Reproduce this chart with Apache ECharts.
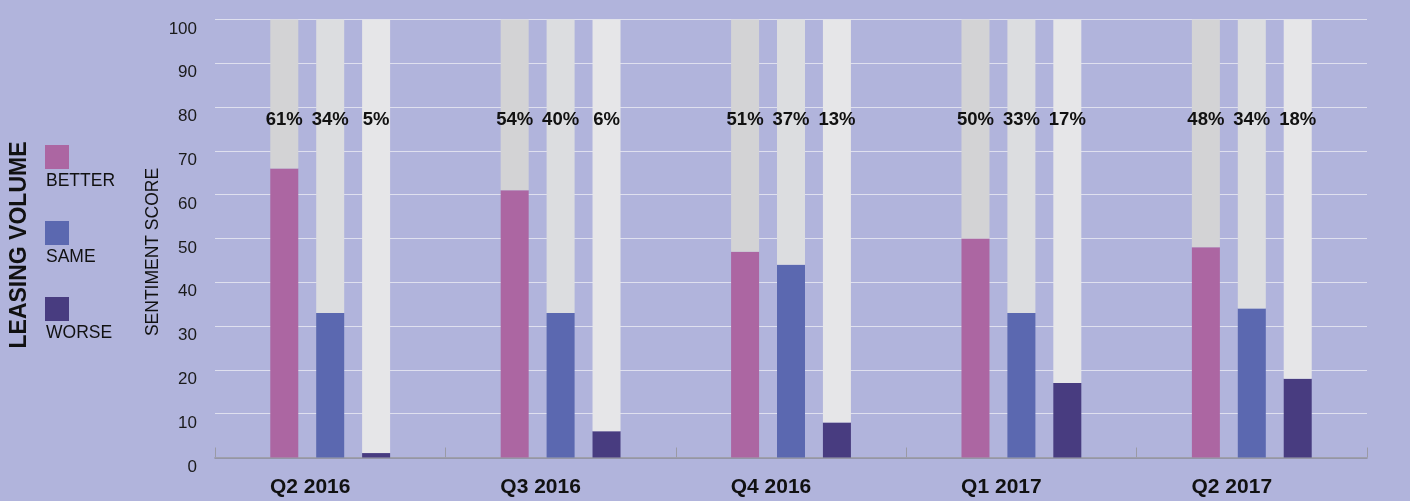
<!DOCTYPE html>
<html>
<head>
<meta charset="utf-8">
<script src="https://cdn.jsdelivr.net/npm/echarts@6/dist/echarts.min.js"></script>
<style>
    html, body { margin: 0; padding: 0; background: #b1b4dc; }
    #chart { width: 1410px; height: 501px; }
</style>
</head>
<body>
<div id="chart"></div>
<script>
const quarters = ['Q2 2016', 'Q3 2016', 'Q4 2016', 'Q1 2017', 'Q2 2017']
const seriesNames = ['BETTER', 'SAME', 'WORSE']
const betterScore = [66, 61, 47, 50, 48]
const sameScore = [33, 33, 44, 33, 34]
const worseScore = [1, 6, 8, 17, 18]
const betterPct = ['61%', '54%', '51%', '50%', '48%']
const samePct = ['34%', '40%', '37%', '33%', '34%']
const worsePct = ['5%', '6%', '13%', '17%', '18%']
const yTicks = [0, 10, 20, 30, 40, 50, 60, 70, 80, 90, 100]

const barColors = ['#ac66a2', '#5b68b0', '#483c80']
const restColors = ['#d3d3d5', '#dcdde0', '#e6e6e8']
const font = '"Liberation Sans", Arial, Helvetica, sans-serif'

const chart = echarts.init(document.getElementById('chart'))

const groups = [
    { name: seriesNames[0], values: betterScore, pct: betterPct },
    { name: seriesNames[1], values: sameScore, pct: samePct },
    { name: seriesNames[2], values: worseScore, pct: worsePct }
]

const series = []
groups.forEach((g, i) => {
    series.push({
        name: g.name,
        type: 'bar',
        stack: 's' + i,
        barWidth: 28,
        barGap: '64%',
        data: g.values,
        itemStyle: { color: barColors[i] },
        emphasis: { disabled: true }
    })
    // remaining part up to 100, carries the percentage label
    series.push({
        name: g.name + ' rest',
        type: 'bar',
        stack: 's' + i,
        barWidth: 28,
        barGap: '64%',
        data: g.values.map(v => 100 - v),
        itemStyle: { color: restColors[i] },
        emphasis: { disabled: true },
        label: {
            show: true,
            position: ['50%', 100],
            align: 'center',
            verticalAlign: 'middle',
            formatter: p => g.pct[p.dataIndex],
            fontFamily: font,
            fontWeight: 'bold',
            fontSize: 18.5,
            color: '#111'
        }
    })
})

const legendGraphics = []
groups.forEach((g, i) => {
    const top = 145 + i * 76
    legendGraphics.push({
        type: 'rect',
        left: 45,
        top: top,
        shape: { width: 24, height: 24 },
        style: { fill: barColors[i] }
    })
    legendGraphics.push({
        type: 'text',
        left: 46,
        top: top + 27,
        style: { text: g.name, font: '17.5px ' + font, fill: '#111' }
    })
})

chart.setOption({
    backgroundColor: '#b1b4dc',
    animation: false,
    grid: { left: 215, right: 43, top: 19.5, bottom: 43.5 },
    xAxis: {
        type: 'category',
        data: quarters,
        axisLine: { lineStyle: { color: '#8a8a95', width: 1.5 } },
        axisTick: { show: true, inside: true, length: 10, lineStyle: { color: '#9a9aa6' } },
        axisLabel: {
            fontFamily: font,
            fontWeight: 'bold',
            fontSize: 21,
            color: '#111',
            margin: 19,
            padding: [0, 40, 0, 0]
        }
    },
    yAxis: {
        type: 'value',
        min: yTicks[0],
        max: yTicks[yTicks.length - 1],
        interval: 10,
        axisLine: { show: false },
        axisTick: { show: false },
        splitLine: { lineStyle: { color: '#dfe0ef', width: 1 } },
        axisLabel: {
            fontFamily: font,
            fontSize: 17,
            color: '#1a1a1a',
            margin: 18,
            verticalAlign: 'top',
            padding: [1, 0, 0, 0]
        }
    },
    graphic: [
        {
            type: 'text',
            x: 20,
            y: 245,
            rotation: Math.PI / 2,
            style: {
                text: 'LEASING VOLUME',
                font: 'bold 23px ' + font,
                fill: '#111',
                align: 'center',
                verticalAlign: 'middle'
            }
        },
        {
            type: 'text',
            x: 153,
            y: 252,
            rotation: Math.PI / 2,
            style: {
                text: 'SENTIMENT SCORE',
                font: '17.5px ' + font,
                fill: '#111',
                align: 'center',
                verticalAlign: 'middle'
            }
        }
    ].concat(legendGraphics),
    series: series
})
</script>
</body>
</html>
